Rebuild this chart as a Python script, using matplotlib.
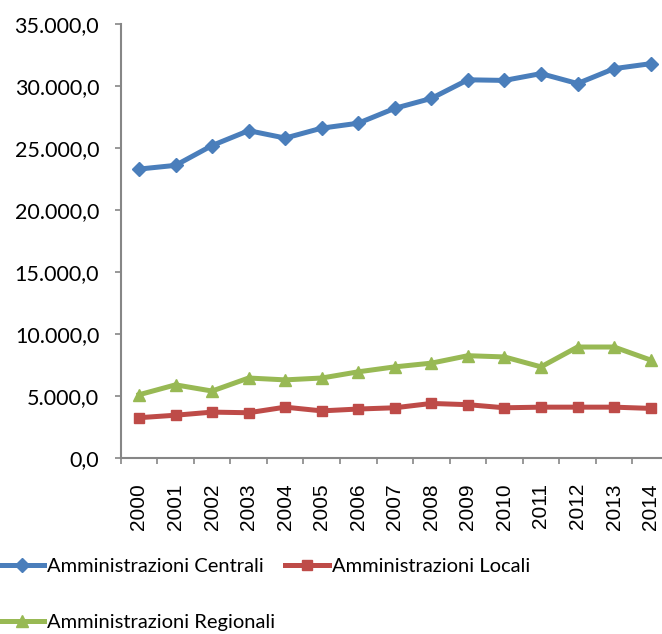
import matplotlib
matplotlib.use("Agg")
import matplotlib.pyplot as plt
from matplotlib.ticker import FuncFormatter, FixedLocator, MultipleLocator

years = [str(y) for y in range(2000, 2015)]
centrali = [23300, 23600, 25200, 26400, 25800, 26600, 27000, 28200, 29000,
            30500, 30450, 31000, 30200, 31400, 31800]
locali = [3250, 3450, 3700, 3650, 4100, 3800, 3950, 4050, 4400,
          4300, 4050, 4100, 4100, 4100, 4000]
regionali = [5100, 5900, 5400, 6450, 6300, 6450, 6950, 7350, 7650,
             8250, 8150, 7350, 8950, 8950, 7900]

W, H = 662, 634
fig = plt.figure(figsize=(W / 100, H / 100), dpi=100)
left_px, right_px = 120.7, 668.9
top_px, bot_px = 24, 458
ax = fig.add_axes([left_px / W, (H - bot_px) / H, (right_px - left_px) / W, (bot_px - top_px) / H])

x = list(range(len(years)))
l1, = ax.plot(x, centrali, color="#4A7EBB", lw=3.6, marker="D", ms=7.5,
              mec="#4A7EBB", mew=1, label="Amministrazioni Centrali", clip_on=False)
l2, = ax.plot(x, locali, color="#BE4B48", lw=3.6, marker="s", ms=6.5,
              mec="#BE4B48", mew=1, label="Amministrazioni Locali", clip_on=False)
l3, = ax.plot(x, regionali, color="#98B954", lw=3.6, marker="^", ms=9,
              mec="#98B954", mew=1, label="Amministrazioni Regionali", clip_on=False)

ax.set_xlim(-0.5, len(years) - 0.5)
ax.set_ylim(0, 35000)

for s in ["top", "right"]:
    ax.spines[s].set_visible(False)
for s in ["left", "bottom"]:
    ax.spines[s].set_color("#868686")
    ax.spines[s].set_linewidth(1.5)

ax.yaxis.set_major_locator(MultipleLocator(5000))
def fmt(v, pos):
    s = f"{v:,.1f}"
    return s.replace(",", "X").replace(".", ",").replace("X", ".")
ax.yaxis.set_major_formatter(FuncFormatter(fmt))
ax.tick_params(axis="y", direction="out", length=4.5, width=1.2, color="#868686",
               pad=11, labelsize=15.5)
for t in ax.get_yticklabels():
    t.set_fontfamily("Lato")

ax.set_xticks(x)
ax.set_xticklabels(years, rotation=90, fontfamily="Liberation Sans", fontsize=15)
ax.tick_params(axis="x", which="major", length=0, pad=18)
ax.xaxis.set_minor_locator(FixedLocator([i - 0.5 for i in range(len(years) + 1)]))
ax.tick_params(axis="x", which="minor", direction="out", length=4.5, width=1.2, color="#868686")

handles = [l1, l3, l2]
leg = fig.legend(handles=handles, labels=[h.get_label() for h in handles], ncol=2,
                 loc="upper left", bbox_to_anchor=(0.0 / W, 1 - 558 / H),
                 frameon=False, prop={"family": "Lato", "size": 14.5},
                 handlelength=2.2, handletextpad=0.15, columnspacing=0.45,
                 labelspacing=1.95, borderaxespad=0, borderpad=0)

fig.savefig("out.png", dpi=100)
